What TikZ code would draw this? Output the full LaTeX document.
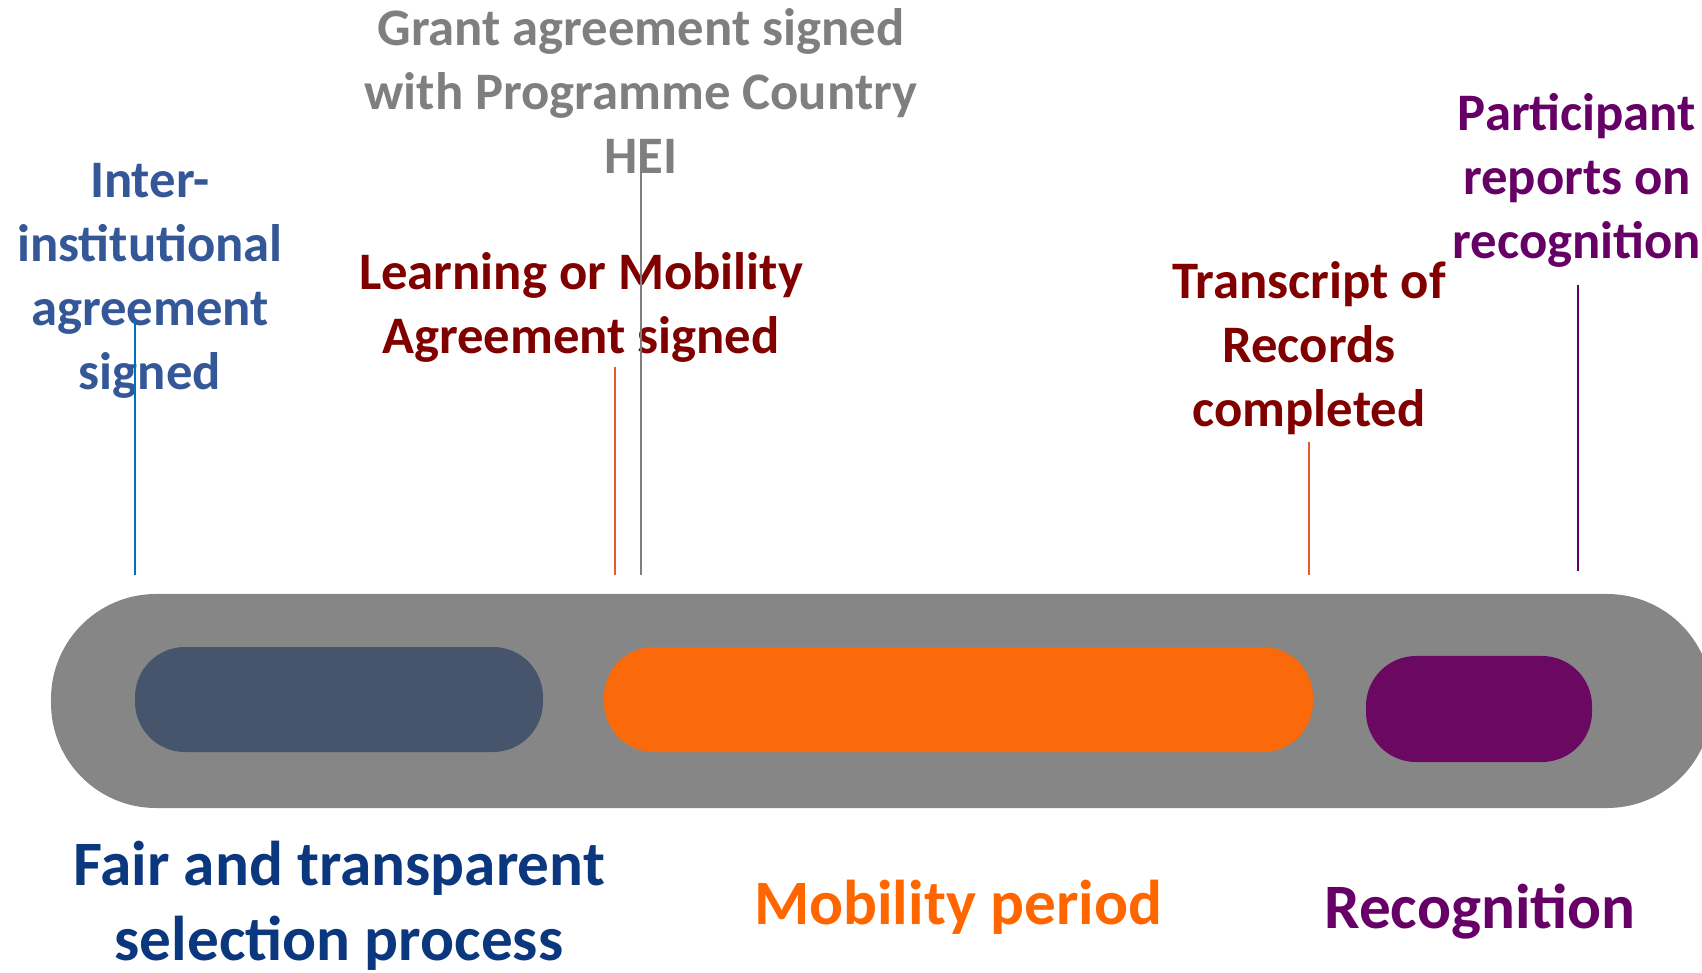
\documentclass[tikz,border=0pt]{standalone}
\usepackage{fontspec}
\setmainfont{Carlito}
\usepackage{tikz}

\definecolor{iiablue}{RGB}{52,87,152}
\definecolor{grantgrey}{RGB}{127,127,127}
\definecolor{ladarkred}{RGB}{128,0,0}
\definecolor{recpurple}{RGB}{102,0,102}
\definecolor{fairblue}{RGB}{10,55,125}
\definecolor{moborange}{RGB}{255,102,0}
\definecolor{barpill}{RGB}{134,134,134}
\definecolor{selpill}{RGB}{70,85,108}
\definecolor{mobpill}{RGB}{250,106,10}
\definecolor{recpill}{RGB}{106,8,98}

\begin{document}
\begin{tikzpicture}
\useasboundingbox (0,0) rectangle (17.02,9.72);
\tikzstyle{milestone}=[align=center,font=\fontsize{15}{18.2}\selectfont\bfseries,inner sep=0pt]
\tikzstyle{phase}=[align=center,font=\fontsize{18}{21.3}\selectfont\bfseries,inner sep=0pt]
\tikzstyle{pill}=[rounded corners=0.5cm]
% the timeline bar and its three phases
\fill[barpill,rounded corners=1.05cm] (0.51,1.64) rectangle (17.12,3.78);
\fill[selpill,pill] (1.35,2.20) rectangle (5.43,3.25);
\fill[mobpill,pill] (6.04,2.20) rectangle (13.13,3.25);
\fill[recpill,pill] (13.66,2.10) rectangle (15.92,3.16);
% milestones
\node[milestone,text=iiablue] (iia) at (1.50,6.91) {Inter-\\institutional\\agreement\\signed};
\node[milestone,text=grantgrey] (grant) at (6.41,8.81) {Grant agreement signed\\with Programme Country\\HEI};
\node[milestone,text=ladarkred] (la) at (5.81,6.65) {Learning or Mobility\\Agreement signed};
\node[milestone,text=ladarkred] (tor) at (13.09,6.24) {Transcript of\\Records\\completed};
\node[milestone,text=recpurple] (report) at (15.77,7.92) {Participant\\reports on\\recognition};
% phases
\node[phase,text=fairblue] (fair) at (3.39,0.66) {Fair and transparent\\selection process};
\node[phase,text=moborange] (mobility) at (9.58,0.65) {Mobility period};
\node[phase,text=recpurple] (recognition) at (14.80,0.60) {Recognition};
% ticks
\coordinate (iia top) at (1.35,6.52);
\coordinate (iia foot) at (1.35,3.97);
\coordinate (la top) at (6.15,6.05);
\coordinate (la foot) at (6.15,3.97);
\coordinate (grant top) at (6.41,8.04);
\coordinate (grant foot) at (6.41,3.97);
\coordinate (tor top) at (13.09,5.30);
\coordinate (tor foot) at (13.09,3.97);
\coordinate (report top) at (15.78,6.87);
\coordinate (report foot) at (15.78,4.01);
\draw[color={rgb,255:red,0;green,112;blue,192}] (iia top) -- (iia foot);
\draw[color={rgb,255:red,228;green,90;blue,40}] (la top) -- (la foot);
\draw[grantgrey,thick] (grant top) -- (grant foot);
\draw[color={rgb,255:red,228;green,90;blue,40}] (tor top) -- (tor foot);
\draw[recpurple,thick] (report top) -- (report foot);
\end{tikzpicture}
\end{document}
